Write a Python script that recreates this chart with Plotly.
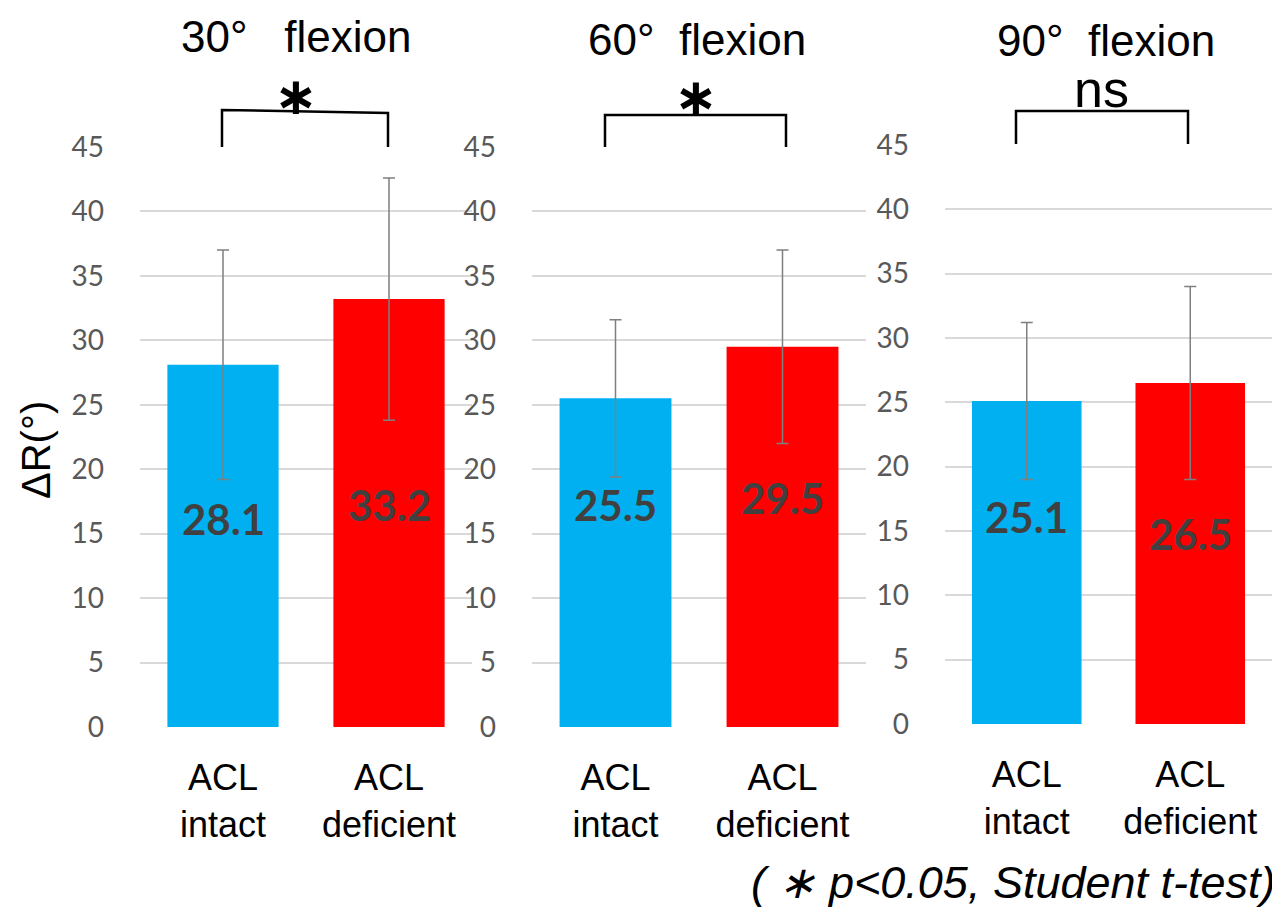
import plotly.graph_objects as go

# ---- data ----
panel_titles = ["30°\u00a0\u00a0\u00a0flexion", "60°\u00a0\u00a0flexion", "90°\u00a0\u00a0flexion"]
categories = ["ACL<br>intact", "ACL<br>deficient"]
means_30 = [28.1, 33.2]
means_60 = [25.5, 29.5]
means_90 = [25.1, 26.5]
sd_30 = [8.9, 9.4]
sd_60 = [6.1, 7.5]
sd_90 = [6.1, 7.5]
significance = ["∗", "∗", "ns"]
y_ticks = [0, 5, 10, 15, 20, 25, 30, 35, 40, 45]
# vertical position (data units) of the value labels inside the bars
label_y_30 = [16.1, 17.2]
label_y_60 = [17.2, 17.8]
label_y_90 = [16.1, 14.8]

means = [means_30, means_60, means_90]
sds = [sd_30, sd_60, sd_90]
label_ys = [label_y_30, label_y_60, label_y_90]

W, H = 1280, 909
OFF = 8  # page body margin of the viewer


def X(p):
    return (p - OFF) / W


def Y(p):
    return 1 - (p - OFF) / H


# panel pixel boxes: (left, right, top(45), bottom(0))
boxes = [(140, 472, 147, 727), (532, 866, 147, 727), (945, 1272, 145, 724)]
colors = ["#00B0F0", "#FF0000"]
SANS = "Liberation Sans, Arial, sans-serif"

fig = go.Figure()
layout = dict(
    width=W, height=H,
    margin=dict(l=0, r=0, t=0, b=0, autoexpand=False),
    paper_bgcolor="white", plot_bgcolor="white",
    showlegend=False,
    font=dict(family=SANS, color="black"),
    annotations=[], shapes=[],
)

for i in range(3):
    sfx = "" if i == 0 else str(i + 1)
    l, r, t, b = boxes[i]
    fig.add_trace(go.Bar(
        x=categories, y=means[i],
        marker=dict(color=colors, line=dict(width=0)),
        width=0.67,
        error_y=dict(type="data", array=sds[i], color="#7F7F7F", thickness=1.5, width=6),
        xaxis="x" + sfx, yaxis="y" + sfx,
        hoverinfo="skip",
    ))
    layout["xaxis" + sfx] = dict(
        domain=[X(l), X(r)], anchor="y" + sfx, automargin=False,
        range=[-0.5, 1.5], showgrid=False, showline=False, zeroline=False,
        tickfont=dict(size=36, color="black", family=SANS),
        ticks="", ticklabelstandoff=26, fixedrange=True,
    )
    layout["yaxis" + sfx] = dict(
        domain=[Y(b), Y(t)], anchor="x" + sfx, automargin=False,
        range=[0, 45], tickvals=y_ticks,
        showgrid=True, gridcolor="#D9D9D9", gridwidth=1.5,
        zeroline=False, showline=False, ticks="",
        tickfont=dict(size=28, color="#595959", family="Lato, Open Sans, sans-serif"),
        ticklabelstandoff=35, fixedrange=True,
    )
    # value labels
    for j in range(2):
        layout["annotations"].append(dict(
            x=categories[j], y=label_ys[i][j], xref="x" + sfx, yref="y" + sfx,
            text="<b>%.1f</b>" % means[i][j], showarrow=False,
            font=dict(size=42, color="#404040", family="Lato, Open Sans, sans-serif"),
        ))

# panel titles
title_pos = [(296, 36), (697, 39), (1106, 40)]
for txt, (px, py) in zip(panel_titles, title_pos):
    layout["annotations"].append(dict(
        x=X(px), y=Y(py), xref="paper", yref="paper", text=txt, showarrow=False,
        font=dict(size=44, color="black"), xanchor="center", yanchor="middle",
    ))

# significance brackets
brackets = [((222, 110), (388, 113), 147), ((605, 115), (786, 115), 147), ((1016, 111), (1188, 111), 144)]
for (p1, p2, base) in brackets:
    path = "M %f %f L %f %f L %f %f L %f %f" % (
        X(p1[0]), Y(base), X(p1[0]), Y(p1[1]), X(p2[0]), Y(p2[1]), X(p2[0]), Y(base))
    layout["shapes"].append(dict(type="path", xref="paper", yref="paper", path=path,
                                 line=dict(color="black", width=2.5)))

sig_pos = [(296, 96, 52), (696, 97, 52), (1101, 89, 52)]
for s, (px, py, fs) in zip(significance, sig_pos):
    fam = "DejaVu Sans, sans-serif" if s == "∗" else SANS
    txt = "<b>%s</b>" % s if s == "∗" else s
    layout["annotations"].append(dict(
        x=X(px), y=Y(py), xref="paper", yref="paper", text=txt, showarrow=False,
        font=dict(size=fs, color="black", family=fam), xanchor="center", yanchor="middle",
    ))

# y axis title
layout["annotations"].append(dict(
    x=X(36), y=Y(450), xref="paper", yref="paper", text="ΔR(°)", showarrow=False,
    textangle=-90, font=dict(size=40, color="black"), xanchor="center", yanchor="middle",
))

# footnote
layout["annotations"].append(dict(
    x=X(1278), y=Y(882), xref="paper", yref="paper",
    text="<i>( ∗ p<0.05, Student t-test)</i>", showarrow=False,
    font=dict(size=45, color="black"), xanchor="right", yanchor="middle",
))

fig.update_layout(**layout)
fig.write_html("out.html")
